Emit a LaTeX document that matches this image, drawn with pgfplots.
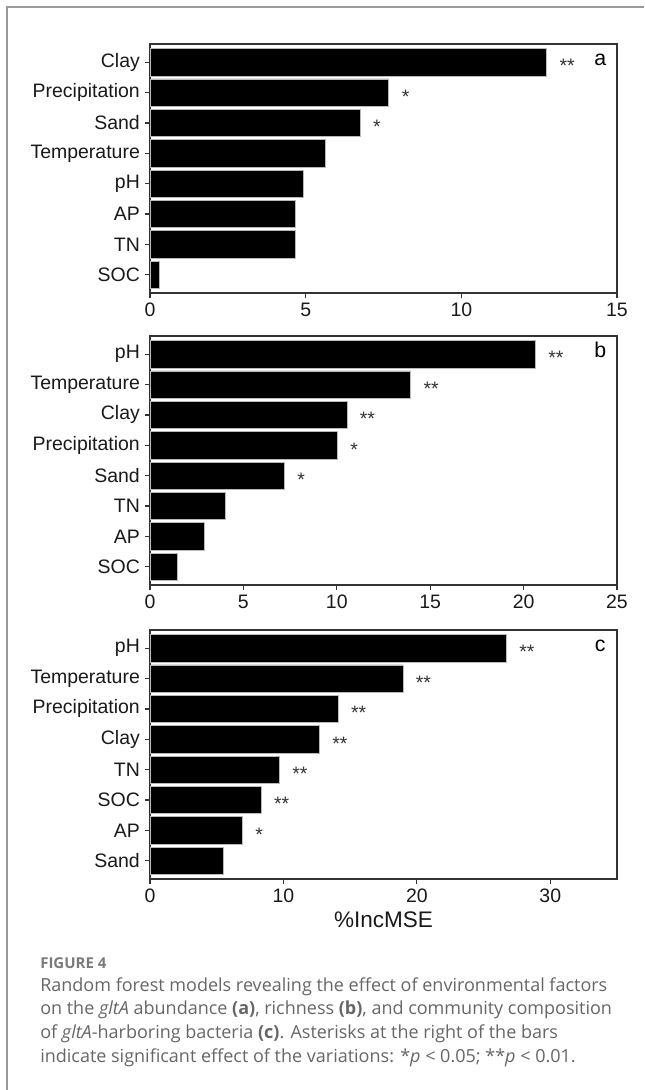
\documentclass[border=0pt]{standalone}
\usepackage{fontspec}
\setmainfont{Liberation Sans}
\newfontfamily\capfont{Open Sans}
\usepackage{pgfplots}
\usepackage{pgfplotstable}
\pgfplotsset{compat=1.18}
\definecolor{axgray}{HTML}{333333}
\definecolor{capgray}{HTML}{666666}
\definecolor{figgray}{HTML}{7A7A7A}
\definecolor{framegray}{HTML}{9A9A9A}

\pgfplotstableread{
x y s
12.74 0 **
7.67 1 *
6.75 2 *
5.63 3 {}
4.93 4 {}
4.68 5 {}
4.67 6 {}
0.29 7 {}
}\tabA
\pgfplotstableread{
x y s
20.63 0 **
13.95 1 **
10.54 2 **
10.03 3 *
7.19 4 *
4.05 5 {}
2.89 6 {}
1.45 7 {}
}\tabB
\pgfplotstableread{
x y s
26.70 0 **
18.95 1 **
14.10 2 **
12.69 3 **
9.69 4 **
8.33 5 **
6.92 6 *
5.53 7 {}
}\tabC

\tikzset{letter/.style={anchor=base, font=\fontsize{16}{18}\selectfont, text=black}}
\pgfplotsset{
  rfbase/.style={
    scale only axis,
    width=350.25pt, height=186.75pt,
    anchor=north west,
    y dir=reverse,
    ymin=-0.6, ymax=7.6,
    ytick={0,...,7},
    xmin=0,
    axis line style={axgray, line width=0.9pt},
    every tick/.style={axgray, line width=0.9pt},
    major tick length=4.1pt,
    tick align=outside,
    xtick pos=bottom, ytick pos=left,
    tick label style={font=\fontsize{14.6}{16}\selectfont, text=black!90},
    /pgf/number format/assume math mode=true,
    clip=false,
  },
  rfbar/.style={
    xbar, bar width=0.9, fill=black, draw=gray!55, line width=0.5pt,
    point meta=explicit symbolic,
    nodes near coords,
    nodes near coords style={font=\fontsize{14.6}{16}\selectfont, text=axgray, anchor=west, inner sep=0pt, xshift=9.5pt, yshift=-3pt},
  },
}

\begin{document}
\begin{tikzpicture}
\useasboundingbox (0,0) rectangle (483pt,-817.5pt);
\draw[framegray, line width=1.5pt] (5.6pt,-817.5pt) -- (5.6pt,-5.6pt) -- (483pt,-5.6pt);

% panel a
\begin{axis}[rfbase, at={(112.5pt,-33pt)}, xmax=15, xtick={0,5,10,15},
  yticklabels={Clay,Precipitation,Sand,Temperature,pH,AP,TN,SOC}]
\addplot[rfbar] table[x=x, y=y, meta=s] {\tabA};
\node[letter] at (axis description cs:0.964,1) [yshift=-15.75pt] {a};
\end{axis}

% panel b
\begin{axis}[rfbase, at={(112.5pt,-252pt)}, xmax=25, xtick={0,5,10,15,20,25},
  yticklabels={pH,Temperature,Clay,Precipitation,Sand,TN,AP,SOC}]
\addplot[rfbar] table[x=x, y=y, meta=s] {\tabB};
\node[letter] at (axis description cs:0.964,1) [yshift=-15.75pt] {b};
\end{axis}

% panel c
\begin{axis}[rfbase, at={(112.5pt,-472.5pt)}, xmax=35, xtick={0,10,20,30},
  yticklabels={pH,Temperature,Precipitation,Clay,TN,SOC,AP,Sand},
  xlabel={\%IncMSE},
  xlabel style={font=\fontsize{16.9}{19}\selectfont, text=black!90, inner sep=0pt, yshift=-3pt}]
\addplot[rfbar] table[x=x, y=y, meta=s] {\tabC};
\node[letter] at (axis description cs:0.964,1) [yshift=-15.75pt] {c};
\end{axis}

% caption
\begin{scope}[every node/.style={anchor=base west, inner sep=0pt, text=capgray, font=\capfont\fontsize{13.5}{16}\selectfont}]
\node[text=figgray, font=\capfont\bfseries\fontsize{11.25}{13}\selectfont] at (30pt,-726pt) {FIGURE 4};
\node at (30pt,-743.25pt) {Random forest models revealing the effect of environmental factors};
\node at (30pt,-760.5pt) {on the \textit{gltA} abundance \textbf{(a)}, richness \textbf{(b)}, and community composition};
\node at (30pt,-778.5pt) {of \textit{gltA}-harboring bacteria \textbf{(c)}. Asterisks at the right of the bars};
\node at (30pt,-796.5pt) {indicate significant effect of the variations: *\textit{p} < 0.05; **\textit{p} < 0.01.};
\end{scope}
\end{tikzpicture}
\end{document}
